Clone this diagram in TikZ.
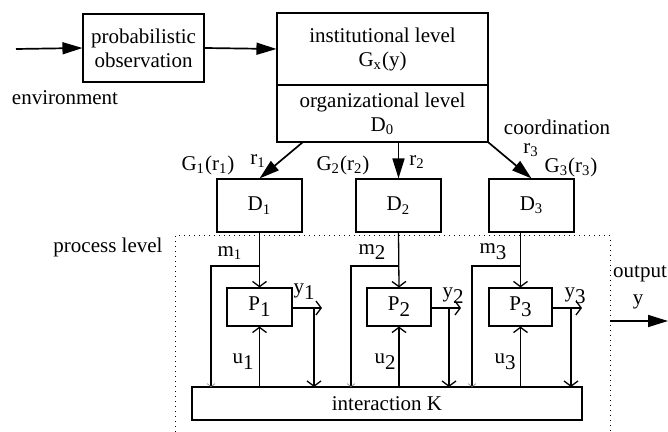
\documentclass[tikz,border=0pt]{standalone}
\usepackage{fontspec}
\setmainfont{Liberation Serif}
\usetikzlibrary{arrows.meta}
\newcommand\lowsub[1]{\raisebox{-0.6ex}{#1}}

\begin{document}
\begin{tikzpicture}[x=0.5pt,y=-0.5pt,
  font=\fontsize{10.5}{12}\selectfont,
  box/.style={draw, line width=0.55pt, inner sep=0pt, align=center},
  lbl/.style={inner sep=0pt, align=center},
  flow/.style={line width=0.85pt, -{Triangle[length=10pt,width=6pt]}},
  sig/.style={line width=0.65pt, -{Straight Barb[length=2.6pt,width=7pt,line width=0.65pt]}},
  feed/.style={line width=0.65pt, -{Straight Barb[length=1.5pt,width=4pt,line width=0.3pt,color=gray]}}]
\useasboundingbox (0,0) rectangle (668,432);

% upper level blocks
\node[box, minimum width=60.5pt, minimum height=34pt] (obs) at (143.5,48) {probabilistic\\observation};
\node[box, minimum width=105.5pt, minimum height=36pt] (inst) at (382.5,49) {institutional level\\G\textsubscript{x}(y)};
\node[box, minimum width=105.5pt, minimum height=28.5pt] (org) at (382.5,113.5) {organizational level\\D\textsubscript{0}};

\coordinate (env) at (16,49);
\draw[flow] (env) -- (obs.west);
\draw[flow] (obs.east) -- (inst.west);
\node[lbl] (envl) at (65,98) {environment};

% decision units
\node[box, minimum width=42.5pt, minimum height=26.5pt] (d1) at (259.5,205.5) {D\textsubscript{1}};
\node[box, minimum width=42.5pt, minimum height=26.5pt] (d2) at (398.5,205.5) {D\textsubscript{2}};
\node[box, minimum width=42.5pt, minimum height=26.5pt] (d3) at (531.5,205.5) {D\textsubscript{3}};

\coordinate (o1) at (303,142);
\coordinate (o2) at (398.5,142);
\draw[flow] (o1) -- (d1.north);
\draw[flow] (o2) -- (d2.north);
\draw[flow] (org.south east) -- (d3.north);

\node[lbl] (g1) at (208,165) {G\textsubscript{1}(r\textsubscript{1})};
\node[lbl] (r1) at (258,161) {r\textsubscript{1}};
\node[lbl] (g2) at (343,165) {G\textsubscript{2}(r\textsubscript{2})};
\node[lbl] (r2) at (417,162) {r\textsubscript{2}};
\node[lbl] (coord) at (557,127) {coordination};
\node[lbl] (r3) at (531,150) {r\textsubscript{3}};
\node[lbl] (g3) at (571,167) {G\textsubscript{3}(r\textsubscript{3})};

% process level frame
\draw[dotted, line width=0.5pt] (175,432) -- (175,236) -- (610,236) -- (610,432);
\node[lbl] (procl) at (108,247) {process level};

% processes and interaction
\node[box, minimum width=32.5pt, minimum height=19pt] (p1) at (259.5,307) {P\lowsub{1}};
\node[box, minimum width=32pt, minimum height=19pt] (p2) at (399,307) {P\lowsub{2}};
\node[box, minimum width=31.5pt, minimum height=19pt] (p3) at (520.5,307) {P\lowsub{3}};
\node[box, minimum width=195pt, minimum height=16.5pt] (k) at (387,403.5) {interaction K};

% loop 1
\coordinate (b1) at (259.5,266);
\coordinate (m1) at (211,266);
\coordinate (m1k) at (211,387);
\coordinate (u1k) at (259.5,387);
\coordinate (y1e) at (322,308);
\coordinate (v1t) at (314,308);
\coordinate (v1k) at (314,387);
\draw[sig] (d1.south) -- (p1.north);
\draw[feed] (b1) -- (m1) -- (m1k);
\draw[sig] (u1k) -- (p1.south);
\draw[sig] (p1.east |- y1e) -- (y1e);
\draw[sig] (v1t) -- (v1k);

% loop 2
\coordinate (b2) at (399,266);
\coordinate (m2) at (351,266);
\coordinate (m2k) at (351,387);
\coordinate (u2k) at (399,387);
\coordinate (y2e) at (461,308);
\coordinate (v2t) at (449,308);
\coordinate (v2k) at (449,387);
\draw[sig] (d2.south) -- (p2.north);
\draw[feed] (b2) -- (m2) -- (m2k);
\draw[sig] (u2k) -- (p2.south);
\draw[sig] (p2.east |- y2e) -- (y2e);
\draw[sig] (v2t) -- (v2k);

% loop 3
\coordinate (d3s) at (520.5,232);
\coordinate (b3) at (520.5,266);
\coordinate (m3) at (472,266);
\coordinate (m3k) at (472,387);
\coordinate (u3k) at (520.5,387);
\coordinate (y3e) at (582,308);
\coordinate (v3t) at (571,308);
\coordinate (v3k) at (571,387);
\draw[sig] (d3s) -- (p3.north);
\draw[feed] (b3) -- (m3) -- (m3k);
\draw[sig] (u3k) -- (p3.south);
\draw[sig] (p3.east |- y3e) -- (y3e);
\draw[sig] (v3t) -- (v3k);

% signal labels
\node[lbl] (lm1) at (230,253) {m\textsubscript{1}};
\node[lbl] (ly1) at (304,292) {y\lowsub{1}};
\node[lbl] (lu1) at (243,362) {u\lowsub{1}};
\node[lbl] (lm2) at (372,252) {m\lowsub{2}};
\node[lbl] (ly2) at (453,296) {y\lowsub{2}};
\node[lbl] (lu2) at (385,362) {u\lowsub{2}};
\node[lbl] (lm3) at (493,252) {m\lowsub{3}};
\node[lbl] (ly3) at (575,296) {y\lowsub{3}};
\node[lbl] (lu3) at (505,362) {u\lowsub{3}};

% system output
\coordinate (outs) at (610,321);
\coordinate (oute) at (668,321);
\draw[flow] (outs) -- (oute);
\node[lbl] (outl) at (640,274) {output};
\node[lbl] (outy) at (638,302) {y};
\end{tikzpicture}
\end{document}
